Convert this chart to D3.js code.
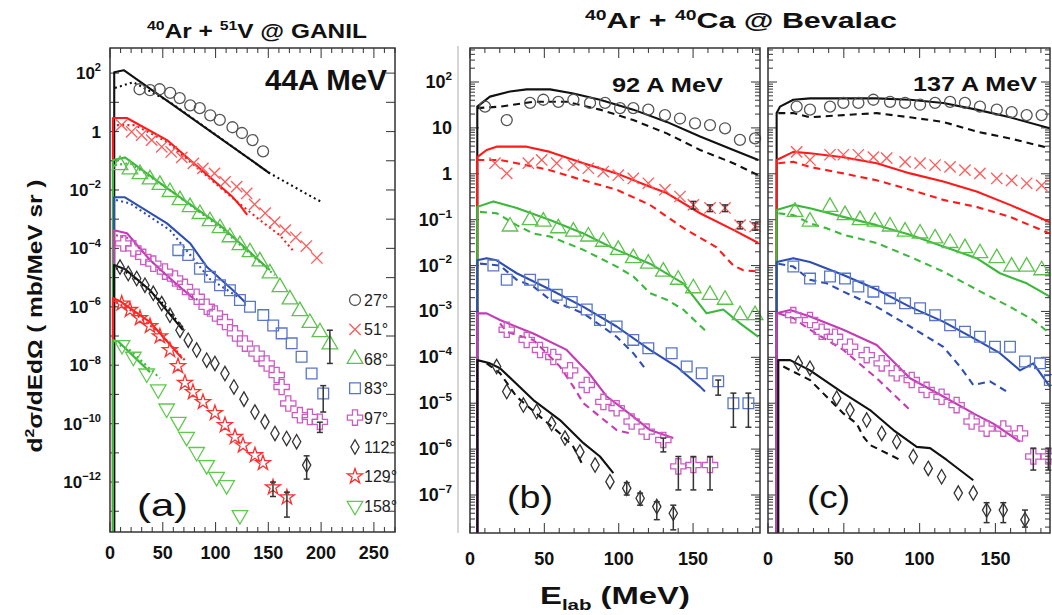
<!DOCTYPE html>
<html><head><meta charset="utf-8">
<script src="https://cdn.jsdelivr.net/npm/d3@7"></script>
<style>body{margin:0;background:#fff}svg{display:block}text{font-family:"Liberation Sans",Arial,Helvetica,sans-serif}</style>
</head><body><svg id="c" width="1052" height="615"></svg>
<script>
// ---------------- DATA (E in MeV, d2sigma/dEdOmega in mb/MeV sr) ----------------
const angles = ["27°","51°","68°","83°","97°","112°","129°","158°"];
const xTicksA = [0,50,100,150,200,250];
const xTicksBC = [0,50,100,150];
const yExpA = [2,0,-2,-4,-6,-8,-10,-12];
const yExpB = [2,1,0,-1,-2,-3,-4,-5,-6,-7];

// Panel (a) 40Ar + 51V @ GANIL, 44A MeV : points, solid model, dotted model
const a27_pts=[[28,28],[38,26],[47,28],[57,21],[66,14],[76,7.9],[85,6.3],[95,3.6],[104,2.5],[116,1.4],[125,0.89],[135,0.51],[145,0.21]];
const a27_sol=[[4,107],[13,126],[151,0.038]];
const a27_dot=[[4.7,31],[22,49],[57,10],[151,0.038],[192,0.0056],[201,0.0038]];
const a51_pts=[[11,1.66],[20.5,0.98],[30,0.76],[39.5,0.51],[49,0.30],[58,0.20],[68,0.13],[79,0.081],[88,0.055],[99,0.037],[109,0.019],[120,0.013],[129.5,0.0076],[137,0.0032],[147,0.0016],[156,0.00079],[166,0.00042],[176,0.00024],[186,0.00012],[196,0.000047]];
const a51_sol=[[2.8,2.9],[16,2.9],[54,0.51],[116.5,0.0056],[123,0.0030],[130,0.0014]];
const a51_dot=[[6.6,1.66],[23.7,1.66],[54,0.44],[116.5,0.0052],[142,0.00093],[161,0.00028],[173,0.000087]];
const a68_pts=[[9.5,0.071],[18.9,0.051],[28.4,0.035],[37.9,0.023],[47.3,0.015],[56.8,0.0085],[66.3,0.0045],[75.8,0.0026],[85.2,0.0015],[94.7,0.00085],[104.2,0.00049],[113.6,0.00024],[123.1,0.00013],[132.6,7.4e-5],[142,3.6e-5],[151.5,1.4e-5],[161,4.7e-6],[170.5,1.8e-6],[179.9,7.1e-7],[189.4,2.8e-7],[198.9,1.35e-7],[208.3,5.2e-8]];
const a68_sol=[[2.8,0.105],[14.2,0.13],[54,0.0115],[104,0.00063],[151.5,1.8e-5]];
const a68_dot=[[4.7,0.071],[18.9,0.083],[56.8,0.0098],[104,0.00054],[156,1.2e-5]];
const a83_pts=[[64.7,8.7e-5],[74.1,5.9e-5],[85.2,2.0e-5],[94.7,1.07e-5],[104.2,5.5e-6],[113.6,3.7e-6],[123.1,1.7e-6],[132.6,1.0e-6],[145.2,5.2e-7],[154.6,2.3e-7],[162.6,1.23e-7],[172.1,5.6e-8],[181.5,1.95e-8],[191,5.2e-9],[202,1.07e-9]];
const a83_sol=[[3.8,0.0056],[14.2,0.0056],[54,0.00072],[75.8,0.00015],[91.9,2.3e-5],[116.5,3.7e-6],[127.8,1.45e-6]];
const a83_dot=[[5.7,0.0045],[18.9,0.0035],[56.8,0.00042],[94.7,8.9e-6],[123,2.0e-6]];
const a97_pts=[[12.6,1.48e-4],[22.1,1.0e-4],[31.5,5.1e-5],[41,3.0e-5],[52.1,1.6e-5],[61.6,9.3e-6],[71,4.8e-6],[82.1,2.2e-6],[91.6,1.0e-6],[99.4,5.9e-7],[108.9,3.0e-7],[118.4,1.23e-7],[127.8,5.5e-8],[138.9,2.5e-8],[148.4,1.15e-8],[157.9,4.6e-9],[162.6,1.8e-9],[168.9,4.9e-10],[179.9,1.95e-10],[189.4,1.7e-10],[198.8,1.15e-10]];
const a97_sol=[[3.8,4.2e-4],[16.1,3.3e-4],[37.9,4.0e-5],[56.8,9.5e-6],[80.5,1.7e-6]];
const a97_dot=[[5.7,2.8e-4],[18.9,2.2e-4],[56.8,8.1e-6],[83.3,1.7e-6]];
const a112_pts=[[9.5,2.3e-5],[17.3,1.38e-5],[25.3,9.3e-6],[33.1,5.5e-6],[41,2.9e-6],[49,1.29e-6],[56.8,5.1e-7],[66.3,1.58e-7],[74.1,7.2e-8],[82.1,3.3e-8],[91.6,1.48e-8],[99.4,1.15e-8],[108.9,5.2e-9],[117.4,1.8e-9],[126.9,6.9e-10],[137.3,2.5e-10],[146.8,1.15e-10],[156.3,4.6e-11],[167.3,3.1e-11],[176.8,2.4e-11],[186.3,3.8e-12]];
const a112_sol=[[3.8,2.7e-5],[14.2,1.95e-5],[37.9,3.7e-6],[69.1,1.58e-7]];
const a112_dot=[[5.7,2.1e-5],[18.9,1.3e-5],[47.3,1.7e-6],[71,1.58e-7]];
const a129_pts=[[11.1,1.3e-6],[18.9,7.8e-7],[28.4,4.1e-7],[37.9,2.2e-7],[47.3,9.8e-8],[56.8,3.3e-8],[64.4,9.3e-9],[71,2.5e-9],[78.6,1.2e-9],[88.1,5.5e-10],[99.4,2.3e-10],[108.9,8.9e-11],[118.4,3.5e-11],[126,1.8e-11],[137.3,8.3e-12],[144.9,4.5e-12],[154.4,6.6e-13],[167.6,3.0e-13]];
const a129_sol=[[2.8,2.0e-6],[9.5,1.55e-6],[37.9,3.0e-7],[68.2,1.74e-8]];
const a129_dot=[[5.7,1.45e-6],[18.9,7.8e-7],[47.3,1.26e-7],[71,1.48e-8]];
const a158_pts=[[11.4,4.9e-8],[22.1,1.95e-8],[34.8,5.2e-9],[45.7,1.5e-9],[53.7,3.3e-10],[64.7,1.15e-10],[72.6,3.5e-11],[82.1,1.07e-11],[91.6,3.8e-12],[101,1.5e-12],[110.5,7.8e-13],[123.1,7.4e-14]];
const a158_sol=[[2.8,7.2e-8],[7.6,6.6e-8],[37.9,5.8e-9]];
const a158_dot=[[4.7,5.8e-8],[18.9,3.3e-8],[47.3,3.6e-9]];
const a_err=[[208.3,1.15e-8,1.58e-7],[202,2.5e-10,2.0e-9],[198.8,5.0e-11,1.12e-10],[186.3,1.26e-12,7.9e-12],[154.4,3.2e-13,1.0e-12],[167.6,6.3e-14,4.5e-13]];

// Panel (b) 40Ar + 40Ca @ Bevalac, 92 A MeV : points, solid, dashed
const b27_pts=[[10.1,29],[24.7,14.8],[40.4,35],[49.3,41],[59.4,37],[69.5,41],[80.7,35],[90.8,35],[100.9,27],[109.8,27],[119.9,25],[131.1,19],[141.2,16],[151.3,12.6],[161.4,11.5],[171.5,9.8],[181.5,5.5],[191.7,5.9]];
const b27_sol=[[4.9,29],[13.4,48],[26.9,62],[38.1,69],[53.8,69],[69.5,56],[87.4,41],[109.8,25],[132.3,13.5],[154.7,6.5],[177.1,3.3],[193.9,2.0]];
const b27_dsh=[[4.9,27],[20.2,29],[42.6,37],[65,37],[87.4,25],[109.8,14.8],[132.3,7.6],[154.7,3.3],[177.1,1.7],[193.9,0.93]];
const b51_pts=[[16.8,1.7],[24.7,1.02],[39.2,1.7],[48.2,2.0],[58.3,1.7],[69.5,1.55],[79.6,1.32],[89.6,1.12],[99.7,0.93],[109.8,0.79],[119.9,0.62],[131.1,0.45],[141.2,0.32],[150.2,0.21],[161.4,0.18],[171.5,0.18],[181.6,0.076],[191.7,0.071]];
const b51_sol=[[4.9,2.3],[11.2,3.3],[17.9,3.9],[38.1,3.9],[53.8,3.0],[76.3,1.7],[98.6,1.02],[121,0.52],[132.3,0.38],[154.7,0.138],[177.1,0.060],[193.9,0.031]];
const b51_dsh=[[4.9,2.0],[20.2,2.0],[31.4,1.7],[53.8,1.2],[76.3,0.72],[98.6,0.45],[121,0.21],[143.4,0.066],[165.8,0.025],[177.1,0.010],[183.8,0.0079],[193.9,0.0074]];
const b68_pts=[[26.9,0.071],[40.4,0.098],[49.3,0.091],[59.4,0.065],[69.5,0.055],[79.6,0.043],[89.6,0.033],[99.7,0.022],[109.8,0.0145],[119.9,0.011],[130,0.0074],[140,0.0049],[150.2,0.0032],[161.4,0.0023],[171.5,0.0018],[181.6,0.00083],[191.7,0.00083]];
const b68_sol=[[4.9,0.19],[15.7,0.25],[31.4,0.18],[53.8,0.098],[76.3,0.050],[98.6,0.022],[121,0.011],[143.4,0.0041],[159.1,0.00091],[170.3,0.0011],[181.6,0.00055],[193.9,0.00028]];
const b68_dsh=[[6.7,0.148],[18,0.138],[31.4,0.076],[42.6,0.050],[53.8,0.043],[76.3,0.022],[98.6,0.0095],[109.8,0.0058],[121,0.0025],[132.3,0.0018],[143.4,0.0011],[159.1,0.00036]];
const b83_pts=[[15.7,0.010],[24.7,0.0049],[40.4,0.0049],[49.3,0.0038],[58.3,0.0023],[68.4,0.0016],[78.5,0.0011],[87.4,0.00065],[98.6,0.00047],[109.8,0.00024],[119.9,0.000158],[135.6,0.000123],[145.7,6.3e-5],[155.8,4.5e-5],[166.9,3.0e-5],[177.1,1.0e-5],[187.2,1.0e-5]];
const b83_sol=[[4.9,0.013],[11.2,0.0145],[17.9,0.013],[31.4,0.0068],[53.8,0.0030],[76.3,0.00126],[98.6,0.00047],[121,0.000145],[138.9,6.3e-5],[154.7,2.3e-5],[158,1.8e-5]];
const b83_dsh=[[6.7,0.011],[20.2,0.010],[31.4,0.0049],[42.6,0.0035],[53.8,0.0018],[76.3,0.00091],[98.6,0.00028],[109.8,0.000123],[118.8,5.2e-5]];
const b97_pts=[[24.7,0.00040],[38.1,0.00024],[47.1,0.000145],[56,0.000102],[67.3,5.2e-5],[78.5,2.5e-5],[89.7,1.07e-5],[98.6,7.8e-6],[108.7,4.0e-6],[118.8,2.4e-6],[130,1.58e-6],[140.1,4.2e-7],[150.2,4.5e-7],[161.4,4.5e-7]];
const b97_sol=[[4.9,0.00091],[11.2,0.00091],[20.2,0.00065],[42.6,0.00033],[65,0.000145],[80,4.5e-5],[92,1.4e-5],[109.8,5.1e-6],[121,2.6e-6],[136.7,1.74e-6]];
const b97_dsh=[[20.2,0.00055],[24.7,0.00036],[42.6,0.00024],[60.5,6.3e-5],[69.5,2.3e-5],[76.3,1.0e-5],[87.4,5.1e-6],[98.6,2.6e-6],[107.6,2.2e-6]];
const b112_pts=[[17.9,6.3e-5],[24.7,1.8e-5],[35.9,9.1e-6],[44.8,6.6e-6],[54.9,3.6e-6],[63.9,1.74e-6],[73.9,8.7e-7],[84.1,4.5e-7],[94.1,1.95e-7],[105.4,1.41e-7],[114.4,8.5e-8],[125.6,5.6e-8],[136.7,4.0e-8]];
const b112_sol=[[4.9,8.7e-5],[13.4,7.4e-5],[20.2,5.8e-5],[42.6,1.17e-5],[60.5,4.3e-6],[76.3,1.35e-6],[87.4,6.9e-7],[96.4,3.0e-7]];
const b112_dsh=[[11.2,7.4e-5],[20.2,4.5e-5],[31.4,1.38e-5],[47.1,5.1e-6],[60.5,2.2e-6],[69.5,1.12e-6],[76.3,4.2e-7]];
const b_err=[[150.2,0.17,0.25],[161.4,0.15,0.21],[171.5,0.15,0.21],[181.6,0.063,0.091],[191.7,0.059,0.085],[166.9,1.5e-5,3.2e-5],[177.1,3.0e-6,1.66e-5],[187.2,3.0e-6,1.66e-5],[130,8.7e-7,1.74e-6],[140.1,1.29e-7,6.9e-7],[150.2,1.29e-7,6.9e-7],[161.4,1.29e-7,6.9e-7],[105.4,1.0e-7,1.86e-7],[114.4,6.0e-8,1.1e-7],[125.6,2.9e-8,7.1e-8],[136.7,1.74e-8,6.0e-8]];

// Panel (c) 40Ar + 40Ca @ Bevalac, 137 A MeV : points, solid, dashed
const c27_pts=[[18.9,29],[27.7,25],[40.9,29],[49.7,35],[59.6,35],[69.5,41],[80.5,37],[90.4,35],[100.3,32],[110.2,35],[120.1,37],[129.9,35],[139.8,29],[150.9,25],[160.7,22],[170.6,19],[180.5,19]];
const c27_sol=[[5.7,21],[7.9,29],[16.7,41],[27.7,44],[49.7,44],[71.7,44],[93.7,41],[115.6,35],[137.6,25],[159.6,17],[185.9,9.8]];
const c27_dsh=[[6.8,21],[16.7,21],[27.7,17],[49.7,19],[71.7,21],[93.7,17],[115.6,13.5],[137.6,8.3],[159.6,5.9],[185.9,3.6]];
const c51_pts=[[18.9,3.0],[27.7,2.0],[40.9,2.6],[49.7,2.6],[59.6,2.6],[69.5,2.3],[78.3,2.2],[90.4,1.82],[100.3,1.7],[110.2,1.55],[120.1,1.41],[129.9,1.2],[139.8,1.02],[150.9,0.79],[160.7,0.72],[170.6,0.62],[180.5,0.56]];
const c51_sol=[[5.7,2.0],[16.7,3.0],[27.7,2.8],[49.7,2.3],[71.7,1.7],[93.7,1.02],[115.6,0.68],[137.6,0.41],[159.6,0.21],[185.9,0.089]];
const c51_dsh=[[6.8,1.7],[16.7,1.82],[27.7,1.41],[49.7,1.02],[71.7,0.72],[93.7,0.45],[115.6,0.27],[137.6,0.19],[159.6,0.115],[185.9,0.050]];
const c68_pts=[[17.8,0.148],[27.7,0.091],[40.9,0.19],[50.8,0.126],[60.7,0.098],[70.6,0.091],[80.5,0.071],[90.4,0.055],[100.3,0.050],[110.2,0.039],[120.1,0.031],[129.9,0.024],[139.8,0.0186],[150.9,0.0145],[160.7,0.0095],[170.6,0.0095],[180.5,0.0079]];
const c68_sol=[[5.7,0.162],[16.7,0.21],[27.7,0.178],[49.7,0.115],[71.7,0.076],[93.7,0.047],[115.6,0.026],[137.6,0.0145],[153,0.0068],[170.6,0.0041],[185.9,0.0021]];
const c68_dsh=[[6.8,0.138],[16.7,0.126],[27.7,0.083],[38.7,0.065],[49.7,0.047],[71.7,0.031],[93.7,0.0155],[115.6,0.0074],[137.6,0.0030],[159.6,0.00126],[175,0.00065],[185.9,0.00033]];
const c83_pts=[[16.7,0.0095],[27.7,0.0052],[40.9,0.0058],[50.8,0.0052],[59.6,0.0035],[69.5,0.0027],[80.5,0.00195],[90.4,0.00151],[100.3,0.00117],[110.2,0.00083],[120.1,0.00050],[129.9,0.00036],[139.8,0.00028],[149.7,0.00017],[159.6,0.00017],[169.5,8.1e-5],[179.4,7.4e-5],[185.9,3.2e-5]];
const c83_sol=[[5.7,0.012],[16.7,0.0145],[27.7,0.012],[49.7,0.0062],[71.7,0.0030],[93.7,0.00126],[115.6,0.00060],[137.6,0.00024],[153,0.000123],[166.2,5.2e-5],[175,7.4e-5],[185.9,2.3e-5]];
const c83_dsh=[[6.8,0.011],[16.7,0.0095],[27.7,0.0049],[38.7,0.0041],[49.7,0.0027],[71.7,0.00126],[93.7,0.00047],[115.6,0.00017],[126.6,6.3e-5],[135.4,2.5e-5],[146.4,3.0e-5],[157.4,1.8e-5]];
const c97_pts=[[16.7,0.00083],[27.7,0.00065],[35.4,0.00036],[44.2,0.00028],[54.1,0.00017],[65.1,0.000112],[75,7.4e-5],[84.9,4.5e-5],[94.8,3.2e-5],[104.6,1.95e-5],[114.5,1.38e-5],[124.4,9.1e-6],[134.3,4.0e-6],[144.2,2.8e-6],[155.2,2.8e-6],[166.2,2.2e-6],[175,6.9e-7],[184.9,6.9e-7]];
const c97_sol=[[5.7,0.00091],[14.6,0.00107],[27.7,0.00078],[49.7,0.00040],[71.7,0.000186],[93.7,3.5e-5],[115.6,1.4e-5],[137.6,5.5e-6],[148.6,3.6e-6],[166.2,1.45e-6]];
const c97_dsh=[[6.8,0.00091],[16.7,0.00072],[27.7,0.00040],[49.7,0.000145],[71.7,3.5e-5],[94.7,6.6e-6]];
const c112_pts=[[20,7.4e-5],[27.7,5.8e-5],[45.3,1.29e-5],[54.1,7.1e-6],[65.1,4.3e-6],[75,2.2e-6],[84.9,1.45e-6],[95.8,6.9e-7],[105.7,3.8e-7],[114.5,2.5e-7],[125.5,1.1e-7],[135.4,1.1e-7],[144.2,4.7e-8],[155.2,4.7e-8],[169.5,2.9e-8]];
const c112_sol=[[6.8,8.7e-5],[14.6,8.7e-5],[27.7,5.2e-5],[49.7,1.66e-5],[67.3,7.1e-6],[82.7,2.6e-6],[98.1,1.12e-6],[106.9,1.05e-6],[117.9,5.8e-7],[135.4,2.1e-7]];
const c112_dsh=[[10.1,6.3e-5],[27.7,3.2e-5],[38.7,1.38e-5],[49.7,6.0e-6],[58.5,3.6e-6],[62.9,1.86e-6],[67.3,1.23e-6],[82.7,6.9e-7],[87.1,5.8e-7]];
const c_err=[[175,3.5e-7,1.05e-6],[184.9,3.5e-7,1.05e-6],[144.2,2.5e-8,6.8e-8],[155.2,2.5e-8,6.8e-8],[169.5,2.0e-8,4.7e-8]];

// ---------------- STYLE ----------------
const ST = [
 {lc:"#111",   mc:"#555",   sym:"circle"},
 {lc:"#ff1a1a",mc:"#ff5a5a",sym:"times"},
 {lc:"#3cb83c",mc:"#5cc24c",sym:"triangle"},
 {lc:"#2f4fb0",mc:"#5876cc",sym:"square"},
 {lc:"#c43cb4",mc:"#cc5cc4",sym:"cross"},
 {lc:"#111",   mc:"#333",   sym:"diamond"},
 {lc:"#ff2020",mc:"#ff3030",sym:"star"},
 {lc:"#3cb83c",mc:"#62c852",sym:"tridown"}
];
const symGen = {
 circle: d3.symbol(d3.symbolCircle, 95),
 times: d3.symbol(d3.symbolTimes, 85),
 triangle: d3.symbol(d3.symbolTriangle, 105),
 square: d3.symbol(d3.symbolSquare, 115),
 cross: d3.symbol(d3.symbolCross, 130),
 diamond: d3.symbol(d3.symbolDiamond, 60),
 star: d3.symbol(d3.symbolStar, 70),
 tridown: d3.symbol(d3.symbolTriangle, 105)
};

const svg = d3.select("#c");

function marker(g, s, cx, cy, color) {
  g.append("path").attr("d", symGen[s]())
   .attr("transform", `translate(${cx},${cy})` + (s==="tridown"?" rotate(180)":""))
   .attr("fill","none").attr("stroke",color).attr("stroke-width",1.3);
}

function expLabel(t, e, fs, ss, dy) {
  if (e===0) t.append("tspan").text("1");
  else if (e===1) t.append("tspan").text("10");
  else { t.append("tspan").text("10"); t.append("tspan").attr("font-size",ss).attr("dy",dy).text(String(e).replace("-","\u2212")); }
}

function drawPanel(P, idx) {
  const x = d3.scaleLinear().domain(P.xd).range([P.x0, P.x1]);
  const y = d3.scaleLog().domain(P.yd).range([P.y1, P.y0]);
  const g = svg.append("g");
  const cid = "clip"+idx;
  svg.append("clipPath").attr("id",cid).append("rect")
     .attr("x",P.x0).attr("y",P.y0).attr("width",P.x1-P.x0).attr("height",P.y1-P.y0);
  const tk = g.append("g").attr("stroke","#444").attr("stroke-width",1.1);
  for (let v = P.xd[0]; v <= P.xd[1]; v += 10) {
    const L = (v % 50 === 0) ? 10 : 5, px = x(v);
    tk.append("line").attr("x1",px).attr("x2",px).attr("y1",P.y1).attr("y2",P.y1-L);
    tk.append("line").attr("x1",px).attr("x2",px).attr("y1",P.y0).attr("y2",P.y0+L);
  }
  const lo = Math.floor(Math.log10(P.yd[0])), hi = Math.ceil(Math.log10(P.yd[1]));
  for (let d = lo; d <= hi; d++) {
    const ms = P.minor ? [1,2,3,4,5,6,7,8,9] : [1];
    ms.forEach(m => {
      const v = m*Math.pow(10,d);
      if (v < P.yd[0] || v > P.yd[1]) return;
      const py = y(v), L = m===1 ? 9 : 5;
      tk.append("line").attr("x1",P.x0).attr("x2",P.x0+L).attr("y1",py).attr("y2",py);
      tk.append("line").attr("x1",P.x1).attr("x2",P.x1-L).attr("y1",py).attr("y2",py);
    });
  }
  P.xt.forEach(v => g.append("text").attr("x",x(v)).attr("y",P.xlY).attr("text-anchor","middle")
      .attr("font-size",18).attr("font-weight","bold").attr("fill","#111").text(v));
  if (P.ye) P.ye.forEach(e => {
    const t = g.append("text").attr("x",P.ylX).attr("y",y(Math.pow(10,e))+P.ylDy).attr("text-anchor","end")
      .attr("font-size",P.ylFs).attr("font-weight","bold").attr("fill","#111");
    expLabel(t, e, P.ylFs, P.ylFs*0.65, -P.ylFs*0.45);
  });
  const line = d3.line().x(d=>x(d[0])).y(d=>y(d[1]));
  const gl = g.append("g").attr("clip-path",`url(#${cid})`);
  const gm = g.append("g");
  P.series.forEach((s,i) => {
    const st = ST[i];
    const solid = [[s.sol[0][0], P.yd[0]/10]].concat(s.sol);
    gl.append("path").attr("d", line(solid)).attr("fill","none").attr("stroke",st.lc)
      .attr("stroke-width",2.1).attr("stroke-linejoin","round");
    gl.append("path").attr("d", line(s.alt)).attr("fill","none").attr("stroke",st.lc)
      .attr("stroke-width",2.1).attr("stroke-dasharray",P.dash).attr("stroke-linecap",P.cap);
    s.pts.forEach(p => marker(gm, st.sym, x(p[0]), y(p[1]), st.mc));
  });
  const ge = g.append("g").attr("stroke","#333").attr("stroke-width",1.5);
  P.err.forEach(e => {
    const px = x(e[0]), y1 = y(e[1]), y2 = y(e[2]);
    ge.append("line").attr("x1",px).attr("x2",px).attr("y1",y1).attr("y2",y2);
    ge.append("line").attr("x1",px-3).attr("x2",px+3).attr("y1",y1).attr("y2",y1);
    ge.append("line").attr("x1",px-3).attr("x2",px+3).attr("y1",y2).attr("y2",y2);
  });
  g.append("rect").attr("x",P.x0).attr("y",P.y0).attr("width",P.x1-P.x0).attr("height",P.y1-P.y0)
   .attr("fill","none").attr("stroke","#333").attr("stroke-width",1.5);
  return {x,y};
}

const seriesA = [
 {pts:a27_pts,sol:a27_sol,alt:a27_dot},{pts:a51_pts,sol:a51_sol,alt:a51_dot},
 {pts:a68_pts,sol:a68_sol,alt:a68_dot},{pts:a83_pts,sol:a83_sol,alt:a83_dot},
 {pts:a97_pts,sol:a97_sol,alt:a97_dot},{pts:a112_pts,sol:a112_sol,alt:a112_dot},
 {pts:a129_pts,sol:a129_sol,alt:a129_dot},{pts:a158_pts,sol:a158_sol,alt:a158_dot}];
const seriesB = [
 {pts:b27_pts,sol:b27_sol,alt:b27_dsh},{pts:b51_pts,sol:b51_sol,alt:b51_dsh},
 {pts:b68_pts,sol:b68_sol,alt:b68_dsh},{pts:b83_pts,sol:b83_sol,alt:b83_dsh},
 {pts:b97_pts,sol:b97_sol,alt:b97_dsh},{pts:b112_pts,sol:b112_sol,alt:b112_dsh}];
const seriesC = [
 {pts:c27_pts,sol:c27_sol,alt:c27_dsh},{pts:c51_pts,sol:c51_sol,alt:c51_dsh},
 {pts:c68_pts,sol:c68_sol,alt:c68_dsh},{pts:c83_pts,sol:c83_sol,alt:c83_dsh},
 {pts:c97_pts,sol:c97_sol,alt:c97_dsh},{pts:c112_pts,sol:c112_sol,alt:c112_dsh}];

svg.append("line").attr("x1",458).attr("x2",458).attr("y1",46).attr("y2",533).attr("stroke","#bbb").attr("stroke-width",1.2);

drawPanel({x0:110,x1:395,y0:48,y1:532,xd:[0,270],yd:[Math.pow(10,-13.71),Math.pow(10,2.86)],
  minor:false,xt:xTicksA,xlY:559,ye:yExpA,ylX:101,ylDy:6,ylFs:17,series:seriesA,err:a_err,dash:"2,3.2",cap:"butt"},0);
drawPanel({x0:470,x1:760,y0:48,y1:533,xd:[0,195],yd:[Math.pow(10,-7.828),Math.pow(10,2.741)],
  minor:true,xt:xTicksBC,xlY:565,ye:yExpB,ylX:452,ylDy:6,ylFs:18,series:seriesB,err:b_err,dash:"7,5",cap:"butt"},1);
drawPanel({x0:768,x1:1050,y0:48,y1:533,xd:[0,186],yd:[Math.pow(10,-7.828),Math.pow(10,2.741)],
  minor:true,xt:xTicksBC,xlY:565,ye:null,series:seriesC,err:c_err,dash:"7,5",cap:"butt"},2);

angles.forEach((a,i) => {
  const ly = 300 + i*29.4;
  marker(svg, ST[i].sym, 355, ly, ST[i].mc);
  svg.append("text").attr("x",364).attr("y",ly+6).attr("font-size",16).attr("fill","#222").text(a);
});

function fitText(x, y, w, build, opts) {
  const g = svg.append("g");
  const t = g.append("text").attr("font-size",opts.fs).attr("font-weight",opts.fw||"bold")
             .attr("fill","#111").attr("text-anchor",opts.anchor||"start");
  build(t);
  const bw = t.node().getBBox().width;
  g.attr("transform", `translate(${x},${y})` + (opts.rot?` rotate(${opts.rot})`:"") + ` scale(${w/bw},1)`);
  if (opts.rot) t.attr("dy","0.35em");
  return t;
}
const sup = (t, s, fs) => t.append("tspan").attr("font-size",fs).attr("dy",-fs*0.6).text(s);
const base = (t, s, fs) => t.append("tspan").attr("font-size",fs).attr("dy",fs*0.39).text(s);

fitText(147, 38, 220, t => { sup(t,"40",13); base(t,"Ar + ",20); sup(t,"51",13); base(t,"V @ GANIL",20); }, {fs:20});
fitText(585, 28, 312, t => { sup(t,"40",14); base(t,"Ar + ",22); sup(t,"40",14); base(t,"Ca @ Bevalac",22); }, {fs:22});
fitText(265, 90, 122, t => t.text("44A MeV"), {fs:30});
fitText(612, 92, 111, t => t.text("92 A MeV"), {fs:21});
fitText(913, 91, 124, t => t.text("137 A MeV"), {fs:21});
fitText(137, 516, 51, t => t.text("(a)"), {fs:32, fw:"normal"});
fitText(507, 508, 46, t => t.text("(b)"), {fs:32, fw:"normal"});
fitText(807, 508, 43, t => t.text("(c)"), {fs:32, fw:"normal"});
fitText(540, 604, 150, t => {
  t.append("tspan").text("E");
  t.append("tspan").attr("font-size",15).attr("dy",6).text("lab");
  t.append("tspan").attr("dy",-6).text(" (MeV)");
}, {fs:24});
fitText(35, 316, 273, t => {
  t.append("tspan").text("d");
  t.append("tspan").attr("font-size",13).attr("dy",-8).text("2");
  t.append("tspan").attr("dy",8).text("\u03c3/dEd\u03a9 ( mb/MeV sr )");
}, {fs:20, anchor:"middle", rot:-90});
</script></body></html>
